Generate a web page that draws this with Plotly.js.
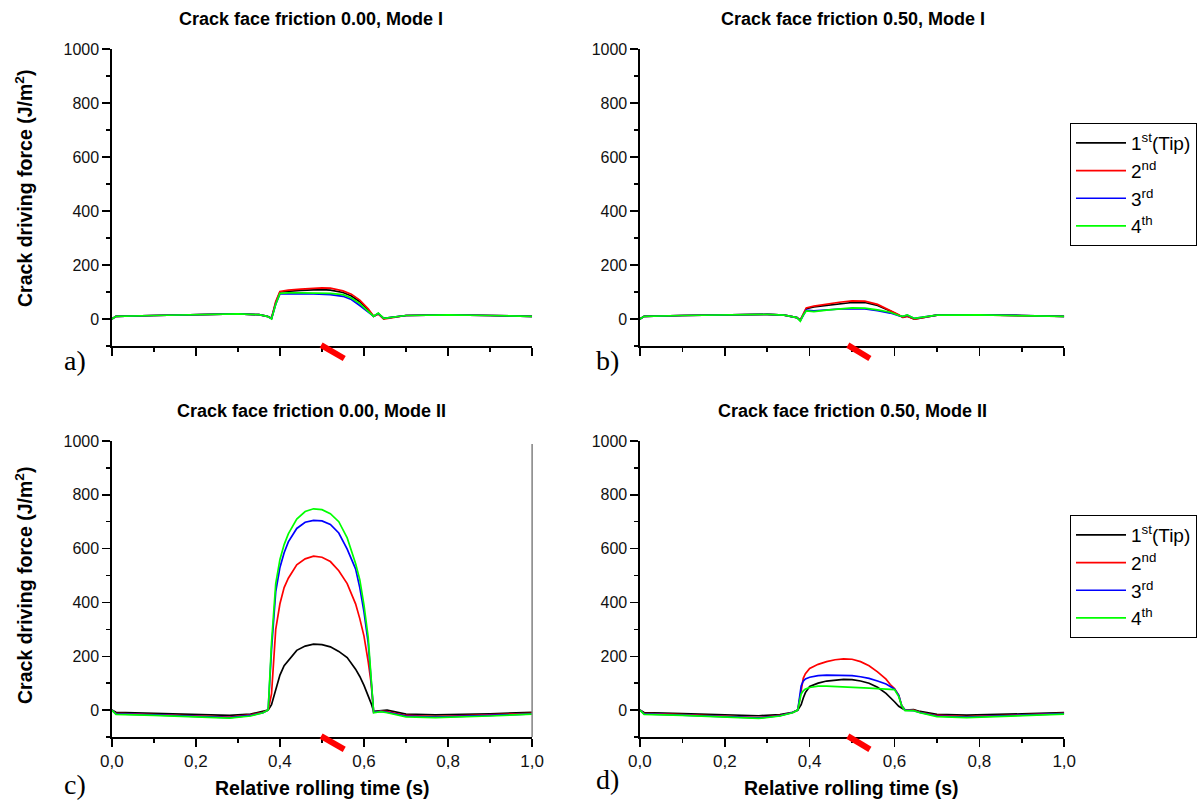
<!DOCTYPE html>
<html>
<head>
<meta charset="utf-8">
<script src="https://cdn.plot.ly/plotly-3.0.1.min.js"></script>
<style>html,body{margin:0;padding:0;background:#fff;}#chart{width:1197px;height:801px;}</style>
</head>
<body>
<div id="chart"></div>
<script>
// ---------- data ----------
const seriesNames = ['1<sup>st</sup>(Tip)', '2<sup>nd</sup>', '3<sup>rd</sup>', '4<sup>th</sup>'];
const seriesColors = ['#000000', '#ff0000', '#0000ff', '#00ff00'];
const panelTitles = ['Crack face friction 0.00, Mode I', 'Crack face friction 0.50, Mode I',
                     'Crack face friction 0.00, Mode II', 'Crack face friction 0.50, Mode II'];
const panelLetters = ['a)', 'b)', 'c)', 'd)'];
const yTitle = 'Crack driving force (J/m<sup>2</sup>)';
const xTitle = 'Relative rolling time (s)';

// a) friction 0.00, Mode I
const xA   = [0, 0.01, 0.1, 0.2, 0.3, 0.35, 0.37, 0.38, 0.39, 0.40, 0.42, 0.45, 0.48, 0.50, 0.52, 0.55, 0.57, 0.59, 0.61, 0.623, 0.634, 0.647, 0.7, 0.8, 0.9, 1.0];
const aTip = [0, 10, 13, 17, 19, 16, 10, 2, 60, 100, 103, 106, 108, 109, 107, 98, 85, 64, 33, 10, 20, 2, 13, 15, 13, 10];
const a2nd = [0, 10, 13, 17, 19, 16, 10, 4, 65, 102, 107, 111, 114, 115, 114, 104, 92, 70, 38, 10, 18, 0, 13, 15, 13, 10];
const a3rd = [0, 10, 13, 17, 19, 16, 10, 2, 55, 93, 94, 94, 93, 92, 90, 84, 72, 50, 24, 10, 20, 2, 13, 15, 13, 10];
const a4th = [0, 10, 13, 17, 19, 16, 10, 0, 55, 95, 97, 97, 97, 97, 95, 90, 78, 57, 30, 10, 22, 2, 13, 15, 13, 10];

// b) friction 0.50, Mode I
const xB   = [0, 0.01, 0.1, 0.2, 0.3, 0.34, 0.37, 0.378, 0.385, 0.392, 0.41, 0.44, 0.47, 0.50, 0.53, 0.56, 0.59, 0.61, 0.62, 0.63, 0.647, 0.7, 0.8, 0.9, 1.0];
const bTip = [0, 10, 13, 16, 17, 14, 5, -4, 20, 38, 45, 51, 57, 61, 61, 50, 30, 15, 6, 10, 0, 14, 15, 13, 10];
const b2nd = [0, 10, 13, 16, 17, 14, 5, -4, 22, 41, 48, 56, 62, 67, 66, 54, 33, 16, 6, 10, 0, 14, 15, 13, 10];
const b3rd = [0, 10, 13, 16, 17, 14, 5, -6, 15, 33, 30, 34, 37, 38, 37, 31, 22, 12, 10, 14, 2, 14, 15, 13, 10];
const b4th = [0, 10, 13, 16, 17, 14, 5, -8, 15, 30, 27, 33, 38, 41, 40, 34, 25, 13, 10, 15, 2, 14, 15, 13, 10];

// c) friction 0.00, Mode II
const xC   = [0, 0.01, 0.1, 0.2, 0.28, 0.33, 0.36, 0.372, 0.38, 0.39, 0.40, 0.41, 0.42, 0.44, 0.46, 0.48, 0.50, 0.52, 0.54, 0.56, 0.58, 0.59, 0.60, 0.61, 0.617, 0.623, 0.64, 0.655, 0.7, 0.77, 0.9, 1.0];
const cTip = [0, -8, -12, -16, -20, -15, -6, 0, 20, 80, 130, 165, 185, 222, 238, 245, 243, 235, 218, 195, 152, 125, 92, 55, 25, -5, -2, 0, -15, -18, -14, -8];
const c2nd = [0, -12, -17, -22, -26, -18, -8, 0, 60, 300, 395, 455, 490, 540, 562, 572, 568, 552, 518, 470, 395, 340, 275, 180, 100, -8, -4, -6, -20, -24, -18, -12];
const c3rd = [0, -14, -18, -23, -28, -20, -10, 0, 225, 440, 530, 585, 625, 675, 698, 705, 703, 690, 658, 598, 525, 455, 365, 250, 125, -8, -5, -8, -22, -26, -20, -14];
const c4th = [0, -16, -20, -26, -30, -22, -10, 0, 250, 470, 560, 615, 655, 710, 738, 748, 745, 730, 700, 640, 545, 485, 390, 270, 135, -10, -6, -10, -25, -28, -22, -15];

// d) friction 0.50, Mode II
const xD   = [0, 0.01, 0.1, 0.2, 0.28, 0.33, 0.36, 0.372, 0.38, 0.385, 0.39, 0.40, 0.42, 0.44, 0.46, 0.48, 0.50, 0.52, 0.54, 0.56, 0.58, 0.59, 0.60, 0.61, 0.617, 0.625, 0.645, 0.66, 0.7, 0.77, 0.9, 1.0];
const dTip = [0, -9, -13, -18, -21, -17, -8, 0, 20, 45, 65, 88, 100, 108, 112, 114, 113, 108, 100, 85, 62, 48, 31, 14, 6, 0, 2, -5, -16, -19, -14, -9];
const d2nd = [0, -12, -17, -24, -28, -20, -9, 0, 70, 118, 135, 155, 170, 180, 187, 190, 189, 180, 165, 142, 115, 95, 80, 55, 16, 0, 0, -8, -20, -24, -18, -12];
const d3rd = [0, -14, -19, -25, -29, -21, -9, 0, 90, 108, 116, 122, 128, 130, 130, 130, 128, 124, 118, 108, 97, 88, 78, 55, 16, 0, -2, -9, -22, -26, -20, -13];
const d4th = [0, -16, -20, -27, -31, -22, -10, 0, 60, 72, 78, 84, 89, 89, 88, 87, 86, 84, 82, 80, 79, 78, 76, 50, 16, -2, -2, -10, -24, -28, -22, -15];

// ---------- build ----------
const W = 1197, H = 801;
const FONT = 'Arial, "Liberation Sans", Helvetica, sans-serif';
const SERIF = '"Times New Roman", "Liberation Serif", serif';
const px = v => v / W;
const py = v => 1 - v / H;

const panels = [
  {x: xA, ys: [aTip, a2nd, a3rd, a4th], xa: 'x',  ya: 'y',  legend: null},
  {x: xB, ys: [bTip, b2nd, b3rd, b4th], xa: 'x2', ya: 'y2', legend: 'legend'},
  {x: xC, ys: [cTip, c2nd, c3rd, c4th], xa: 'x3', ya: 'y3', legend: null},
  {x: xD, ys: [dTip, d2nd, d3rd, d4th], xa: 'x4', ya: 'y4', legend: 'legend2'}
];

const traces = [];
panels.forEach(p => {
  p.ys.forEach((y, i) => {
    const t = {
      type: 'scatter', mode: 'lines', x: p.x, y: y,
      xaxis: p.xa, yaxis: p.ya, name: seriesNames[i],
      line: {color: seriesColors[i], width: 1.7},
      showlegend: !!p.legend, hoverinfo: 'skip'
    };
    if (p.legend) t.legend = p.legend;
    traces.push(t);
  });
});

const colL = [px(112), px(533)], colR = [px(641), px(1066)];
const rowT = [py(346), py(49)], rowB = [py(737), py(441)];

function xAx(domain, anchor, labels) {
  return {
    domain: domain, anchor: anchor, range: [0, 1], showline: true, linecolor: '#000', linewidth: 1.5,
    ticks: 'outside', ticklen: 8, tickwidth: 1.5, tickcolor: '#000', dtick: 0.2, tick0: 0,
    minor: {dtick: 0.1, tick0: 0, ticks: 'outside', ticklen: 4, tickwidth: 1.5, tickcolor: '#000', showgrid: false},
    showgrid: false, zeroline: false, showticklabels: labels, tickformat: '.1f',
    tickfont: {family: FONT, size: 17, color: '#111'}, fixedrange: true
  };
}
function yAx(domain, anchor) {
  return {
    domain: domain, anchor: anchor, range: [-100, 1000], showline: true, linecolor: '#000', linewidth: 1.5,
    ticks: 'outside', ticklen: 8, tickwidth: 1.5, tickcolor: '#000', dtick: 200, tick0: 0,
    minor: {dtick: 100, tick0: 0, ticks: 'outside', ticklen: 4, tickwidth: 1.5, tickcolor: '#000', showgrid: false},
    showgrid: false, zeroline: false, tickfont: {family: FONT, size: 16, color: '#111'}, fixedrange: true
  };
}
function yRight(over, anchor) {
  return {
    overlaying: over, anchor: anchor, side: 'right', range: [-100, 1000], showline: true, linecolor: '#000', linewidth: 1.5,
    ticks: 'inside', ticklen: 6, tickwidth: 1.5, tickcolor: '#000', dtick: 200, tick0: 0,
    minor: {dtick: 100, tick0: 0, ticks: 'inside', ticklen: 4, tickwidth: 1.5, tickcolor: '#000', showgrid: false},
    showgrid: false, zeroline: false, showticklabels: false, fixedrange: true
  };
}

const annotations = [];
const titlePos = [[312, 19], [854, 19], [312, 411], [854, 411]];
panelTitles.forEach((t, i) => annotations.push({
  text: '<b>' + t + '</b>', xref: 'paper', yref: 'paper', x: px(titlePos[i][0]), y: py(titlePos[i][1]),
  xanchor: 'center', yanchor: 'middle', showarrow: false, font: {family: FONT, size: 18, color: '#000'}
}));
const letterPos = [[75, 360], [609, 360], [75, 784], [609, 779]];
panelLetters.forEach((t, i) => annotations.push({
  text: t, xref: 'paper', yref: 'paper', x: px(letterPos[i][0]), y: py(letterPos[i][1]),
  xanchor: 'center', yanchor: 'middle', showarrow: false, font: {family: SERIF, size: 28, color: '#000'}
}));
[[24, 188], [24, 585]].forEach(p => annotations.push({
  text: '<b>' + yTitle + '</b>', xref: 'paper', yref: 'paper', x: px(p[0]), y: py(p[1]), textangle: -90,
  xanchor: 'center', yanchor: 'middle', showarrow: false, font: {family: FONT, size: 19.5, color: '#000'}
}));
[[323, 788], [853, 788]].forEach(p => annotations.push({
  text: '<b>' + xTitle + '</b>', xref: 'paper', yref: 'paper', x: px(p[0]), y: py(p[1]),
  xanchor: 'center', yanchor: 'middle', showarrow: false, font: {family: FONT, size: 19.5, color: '#000'}
}));

const shapes = [];
// red wheel position markers below each x axis
[['x', 'y', 0.498, 0.553], ['x2', 'y2', 0.490, 0.542], ['x3', 'y3', 0.498, 0.553], ['x4', 'y4', 0.490, 0.542]].forEach(s => {
  shapes.push({type: 'line', xref: s[0] + ' domain', yref: s[1] + ' domain', x0: s[2], x1: s[3], y0: 0.003, y1: -0.042,
    line: {color: '#ff0000', width: 6}});
});
// grey right border of panel c
shapes.push({type: 'line', xref: 'x3 domain', yref: 'y3 domain', x0: 1, x1: 1, y0: 0, y1: 0.99,
  line: {color: '#808080', width: 1.5}});

const legendBase = {
  xanchor: 'left', yanchor: 'top', bordercolor: '#000', borderwidth: 1, bgcolor: '#fff',
  font: {family: FONT, size: 19, color: '#000'}, tracegroupgap: 0, itemwidth: 50
};

const layout = {
  width: W, height: H, margin: {l: 0, r: 0, t: 0, b: 0},
  paper_bgcolor: '#fff', plot_bgcolor: '#fff', separators: ',.',
  font: {family: FONT, color: '#000'},
  xaxis: xAx(colL, 'y', false), yaxis: yAx(rowT, 'x'),
  xaxis2: xAx(colR, 'y2', false), yaxis2: yAx(rowT, 'x2'),
  xaxis3: xAx(colL, 'y3', true), yaxis3: yAx(rowB, 'x3'),
  xaxis4: xAx(colR, 'y4', true), yaxis4: yAx(rowB, 'x4'),
  yaxis5: yRight('y2', 'x2'), yaxis6: yRight('y4', 'x4'),
  legend: Object.assign({}, legendBase, {x: px(1072), y: py(123)}),
  legend2: Object.assign({}, legendBase, {x: px(1072), y: py(515)}),
  annotations: annotations, shapes: shapes, showlegend: true
};

Plotly.newPlot('chart', traces, layout, {displayModeBar: false, staticPlot: true});
</script>
</body>
</html>
